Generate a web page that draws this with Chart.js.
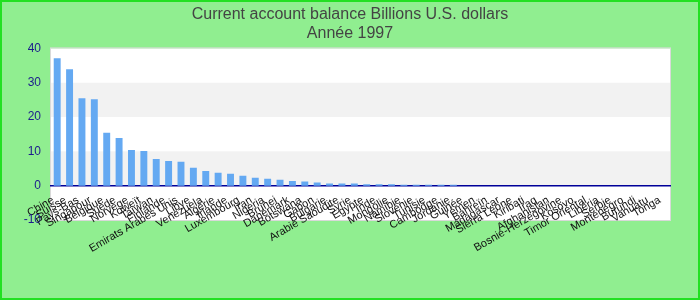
<!DOCTYPE html>
<html>
<head>
<meta charset="utf-8">
<script src="https://cdn.jsdelivr.net/npm/chart.js@4/dist/chart.umd.min.js"></script>
<style>
  body { margin: 0; background: #ffffff; }
  #wrap { width: 700px; height: 300px; }
</style>
</head>
<body>
<div id="wrap"><canvas id="chart" width="700" height="300"></canvas></div>
<script>
const pays = [
  "Chine", "Suisse", "Pays-Bas", "Singapour", "Belgique", "Suède", "Norvège",
  "Koweït", "Taïwan", "Finlande", "Emirats Arabes Unis", "Libye", "Venezuela",
  "Algérie", "Irlande", "Luxembourg", "Iran", "Nigeria", "Brunei", "Danemark",
  "Botswana", "Gabon", "Bulgarie", "Arabie Saoudite", "Syrie", "Egypte", "Inde",
  "Mongolie", "Namibie", "Slovénie", "Tunisie", "Cambodge", "Jordanie", "Guinée",
  "Yémen", "Bahreïn", "Madagascar", "Sierra Leone", "Kiribati", "Iraq",
  "Afghanistan", "Bosnie-Herzégovine", "Kosovo", "Timor Oriental", "Libéria",
  "Serbie", "Monténégro", "Burundi", "Vanuatu", "Tonga"
];
const solde = [
  37.1, 33.9, 25.5, 25.2, 15.4, 13.9, 10.4, 10.1, 7.8, 7.2,
  7.0, 5.2, 4.3, 3.8, 3.5, 2.9, 2.3, 2.0, 1.7, 1.4,
  1.2, 0.9, 0.6, 0.6, 0.6, 0.4, 0.4, 0.4, 0.3, 0.3,
  0.3, 0.3, 0.3, 0, 0, 0, 0, 0, 0, 0,
  0, 0, 0, 0, 0, 0, 0, 0, 0, 0
];
const yTicks = [-10, 0, 10, 20, 30, 40];
const titre = ["Current account balance Billions U.S. dollars", "Année 1997"];

// fond vert, zone blanche avec bandes grises alternées, bordure
const fondPlugin = {
  id: "fond",
  beforeDraw(chart) {
    const ctx = chart.ctx;
    const area = chart.chartArea;
    const y = chart.scales.y;
    ctx.save();
    ctx.fillStyle = "#90ee90";
    ctx.fillRect(0, 0, chart.width, chart.height);
    ctx.fillStyle = "#ffffff";
    ctx.fillRect(area.left, area.top, area.right - area.left, area.bottom - area.top);
    ctx.fillStyle = "#f2f2f2";
    for (let i = 0; i < yTicks.length - 1; i++) {
      if (i % 2 === 1) {
        const top = y.getPixelForValue(yTicks[i + 1]);
        const bot = y.getPixelForValue(yTicks[i]);
        ctx.fillRect(area.left, top, area.right - area.left, bot - top);
      }
    }
    ctx.strokeStyle = "#d9d9d9";
    ctx.lineWidth = 1;
    ctx.strokeRect(area.left - 0.5, area.top - 0.5, area.right - area.left + 1, area.bottom - area.top + 1);
    ctx.restore();
  },
  afterDraw(chart) {
    const ctx = chart.ctx;
    ctx.save();
    ctx.strokeStyle = "#22e022";
    ctx.lineWidth = 2;
    ctx.strokeRect(1, 1, chart.width - 2, chart.height - 2);
    ctx.restore();
  },
};

new Chart(document.getElementById("chart"), {
  type: "bar",
  data: {
    labels: pays,
    datasets: [
      {
        label: "Solde",
        data: solde,
        backgroundColor: "#64a9f2",
        categoryPercentage: 0.8,
        barPercentage: 0.7,
      },
    ],
  },
  options: {
    responsive: false,
    animation: false,
    layout: { padding: { top: 1, right: 0, bottom: 80, left: 0 } },
    plugins: {
      legend: { display: false },
      tooltip: { enabled: false },
      title: {
        display: true,
        text: titre,
        color: "#444444",
        font: { family: "Liberation Sans, Arial, sans-serif", size: 16, weight: "normal" },
        padding: { top: 4, bottom: 5 },
      },
    },
    scales: {
      x: {
        position: { y: 0 },
        z: 1,
        afterFit(scale) {
          scale.paddingRight = 30;
        },
        grid: { display: false, drawTicks: false },
        border: { display: true, color: "#000099", width: 1.5 },
        ticks: {
          autoSkip: false,
          minRotation: 30,
          maxRotation: 30,
          padding: 8,
          labelOffset: -4,
          color: "#111111",
          font: { family: "Liberation Sans, Arial, sans-serif", size: 11 },
        },
      },
      y: {
        min: -10,
        max: 40,
        afterBuildTicks(scale) {
          scale.ticks = yTicks.map((v) => ({ value: v }));
        },
        afterFit(scale) {
          scale.width = 51;
        },
        grid: { display: false, drawTicks: false },
        border: { display: false },
        ticks: {
          padding: 10,
          color: "#1c1c8c",
          font: { family: "Liberation Sans, Arial, sans-serif", size: 12 },
        },
      },
    },
  },
  plugins: [fondPlugin],
});
</script>
</body>
</html>
